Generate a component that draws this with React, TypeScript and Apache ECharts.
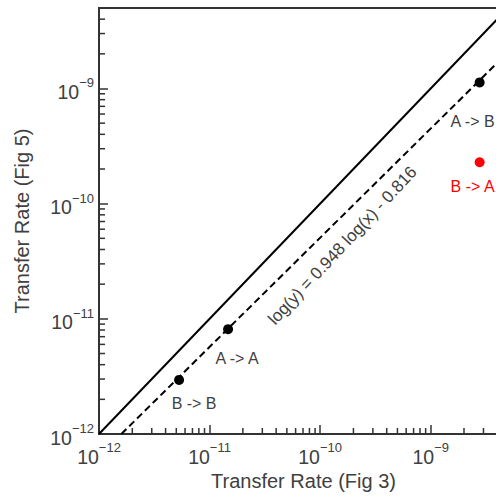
import React, { useEffect, useRef } from 'react';
import * as echarts from 'echarts';

// ---- data ----
const pointNames = ['B -> B', 'A -> A', 'A -> B', 'B -> A'];
const fig3Rates = [5.3e-12, 1.47e-11, 2.77e-9, 2.77e-9];
const fig5Rates = [2.95e-12, 8.13e-12, 1.13e-9, 2.29e-10];
const highlighted = [false, false, false, true];

const AXIS_MIN = 1e-12;
const AXIS_MAX = 5e-9;
const FIT_SLOPE = 0.948;
const FIT_INTERCEPT = -0.816;
const EQUATION = 'log(y) = 0.948 log(x) - 0.816';
const EQUATION_ANCHOR_X = 1.094e-10;
const X_TITLE = 'Transfer Rate (Fig 3)';
const Y_TITLE = 'Transfer Rate (Fig 5)';
const DECADE_EXPONENTS = [-12, -11, -10, -9];
const MINOR_MULTIPLIERS = [2, 3, 4, 5, 6, 7, 8, 9];

const FONT = '"Liberation Sans", Arial, Helvetica, sans-serif';
const AXIS_COLOR = '#333333';
const TEXT_COLOR = '#404040';

const fitY = (x: number) => Math.pow(10, FIT_SLOPE * Math.log10(x) + FIT_INTERCEPT);

export default function App() {
  const ref = useRef<HTMLDivElement>(null);

  useEffect(() => {
    if (!ref.current) return;
    const chart = echarts.init(ref.current, undefined, { renderer: 'svg' });

    const labelOffsets: Record<string, number[]> = {
      'B -> B': [15, 24],
      'A -> A': [9, 29],
      'A -> B': [-7, 39],
      'B -> A': [-7, 24],
    };

    const minorTicks: number[][] = [];
    DECADE_EXPONENTS.forEach((e) => {
      MINOR_MULTIPLIERS.forEach((m) => {
        const v = m * Math.pow(10, e);
        if (v <= AXIS_MAX) {
          minorTicks.push([v, AXIS_MIN, 0]);
          minorTicks.push([AXIS_MIN, v, 1]);
        }
      });
    });

    const fitStartX = Math.pow(10, (Math.log10(AXIS_MIN) - FIT_INTERCEPT) / FIT_SLOPE);

    const labelFormatter = (v: number) => {
      const lg = Math.log10(v);
      const e = Math.round(lg);
      if (Math.abs(lg - e) > 1e-6) return '';
      return `{b|10}{s|${e < 0 ? '\u2212' : ''}${Math.abs(e)}}`;
    };
    const rich = {
      b: { fontSize: 19.5, lineHeight: 31, verticalAlign: 'middle', color: TEXT_COLOR, fontFamily: FONT },
      s: { fontSize: 13, lineHeight: 13, verticalAlign: 'top', color: TEXT_COLOR, fontFamily: FONT },
    };

    const axisCommon = {
      type: 'log',
      logBase: 10,
      min: AXIS_MIN,
      max: AXIS_MAX,
      splitLine: { show: false },
      axisLine: { show: true, lineStyle: { color: AXIS_COLOR, width: 2 } },
      axisTick: { show: true, inside: true, length: 9, lineStyle: { color: AXIS_COLOR, width: 1.5 } },
      nameLocation: 'middle',
      nameTextStyle: { fontSize: 20, color: TEXT_COLOR, fontFamily: FONT },
    };

    chart.setOption({
      animation: false,
      textStyle: { fontFamily: FONT },
      grid: {
        left: 99,
        top: 8,
        width: 409,
        height: 426,
        show: true,
        borderColor: AXIS_COLOR,
        borderWidth: 2,
        containLabel: false,
        outerBoundsMode: 'none',
      },
      xAxis: {
        ...axisCommon,
        name: X_TITLE,
        nameGap: 30,
        axisLabel: { margin: 7, formatter: labelFormatter, rich },
      },
      yAxis: {
        ...axisCommon,
        name: Y_TITLE,
        nameGap: 67,
        axisLabel: { margin: 5, padding: [7, 0, 0, 0], formatter: labelFormatter, rich },
      },
      series: [
        {
          type: 'custom',
          silent: true,
          z: 1,
          data: minorTicks,
          renderItem: (params: any, api: any) => {
            const kind = api.value(2);
            const p = api.coord([api.value(0), api.value(1)]);
            if (kind === 0) {
              return { type: 'line', shape: { x1: p[0], y1: p[1], x2: p[0], y2: p[1] - 6 }, style: { stroke: AXIS_COLOR, lineWidth: 1.5 } };
            }
            return { type: 'line', shape: { x1: p[0], y1: p[1], x2: p[0] + 6, y2: p[1] }, style: { stroke: AXIS_COLOR, lineWidth: 1.5 } };
          },
        },
        {
          type: 'line',
          silent: true,
          symbol: 'none',
          z: 2,
          lineStyle: { color: '#000', width: 2 },
          data: [[AXIS_MIN, AXIS_MIN], [AXIS_MAX, AXIS_MAX]],
        },
        {
          type: 'line',
          silent: true,
          symbol: 'none',
          z: 2,
          lineStyle: { color: '#000', width: 2, type: [7, 4] },
          data: [[fitStartX, AXIS_MIN], [AXIS_MAX, fitY(AXIS_MAX)]],
        },
        {
          type: 'custom',
          silent: true,
          z: 3,
          data: [[EQUATION_ANCHOR_X, fitY(EQUATION_ANCHOR_X)]],
          renderItem: (params: any, api: any) => {
            const p = api.coord([api.value(0), api.value(1)]);
            return {
              type: 'text',
              x: p[0] + 18,
              y: p[1] + 12,
              rotation: (47 * Math.PI) / 180,
              style: {
                text: EQUATION,
                fill: TEXT_COLOR,
                fontSize: 17,
                fontFamily: FONT,
                align: 'center',
                verticalAlign: 'middle',
              },
            };
          },
        },
        {
          type: 'scatter',
          z: 4,
          symbolSize: 10,
          data: pointNames.map((name, i) => ({
            name,
            value: [fig3Rates[i], fig5Rates[i]],
            itemStyle: { color: highlighted[i] ? '#ff0000' : '#000000', opacity: 1 },
            label: {
              show: true,
              position: 'inside',
              offset: labelOffsets[name],
              formatter: name,
              fontSize: 16,
              fontFamily: FONT,
              textBorderWidth: 0,
              textBorderColor: 'transparent',
              color: highlighted[i] ? '#ff0000' : TEXT_COLOR,
            },
          })),
        },
      ],
    });

    return () => chart.dispose();
  }, []);

  return (
    <div style={{ position: 'fixed', left: 0, top: 0, width: 496, height: 499, background: '#fff' }}>
      <div ref={ref} style={{ width: 496, height: 499 }} />
    </div>
  );
}
